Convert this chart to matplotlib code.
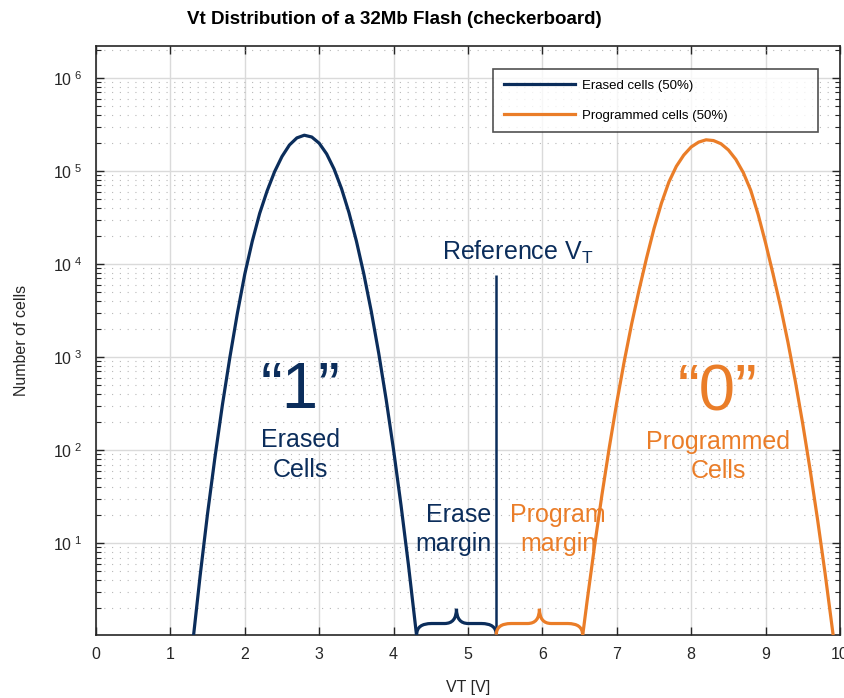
import numpy as np
import matplotlib
matplotlib.use('Agg')
import matplotlib.pyplot as plt
from matplotlib.path import Path
from matplotlib.patches import PathPatch
from matplotlib.ticker import FuncFormatter, LogLocator, NullFormatter
import matplotlib.transforms as mtransforms

plt.rcParams['font.family'] = ['Liberation Sans', 'DejaVu Sans']
plt.rcParams['mathtext.fontset'] = 'custom'
plt.rcParams['mathtext.rm'] = 'Liberation Sans'
plt.rcParams['mathtext.it'] = 'Liberation Sans:italic'
plt.rcParams['mathtext.bf'] = 'Liberation Sans:bold'

# --- data ---
vt_erased = [1.31, 1.4, 1.5, 1.6, 1.7, 1.8, 1.9, 2.0, 2.1, 2.2, 2.3, 2.4, 2.5, 2.6,
             2.7, 2.8, 2.9, 3.0, 3.1, 3.2, 3.3, 3.4, 3.5, 3.6, 3.7, 3.8, 3.9, 4.0,
             4.1, 4.2, 4.31]
cells_erased = [1.0, 4.5, 21, 85, 310, 1000, 2950, 7800, 17500, 35000, 61000,
                98000, 143000, 190000, 226500, 242000, 231500, 198500, 152400,
                104800, 64590, 35650, 17630, 7806, 3097, 1100, 350, 100, 25.5,
                5.8, 1.0]

vt_programmed = [6.54, 6.6, 6.7, 6.8, 6.9, 7.0, 7.1, 7.2, 7.3, 7.4, 7.5, 7.6, 7.7,
                 7.8, 7.9, 8.0, 8.1, 8.2, 8.3, 8.4, 8.5, 8.6, 8.7, 8.8, 8.9, 9.0,
                 9.1, 9.2, 9.3, 9.4, 9.5, 9.6, 9.7, 9.8, 9.91]
cells_programmed = [1.0, 2.36, 9.22, 33.0, 108, 326, 901, 2280, 5297, 11600, 24000,
                    45000, 76000, 112000, 148000, 181000, 204000, 216000, 212000,
                    196000, 168000, 133000, 96000, 62000, 34000, 16800, 7815, 3513,
                    1449, 548, 190, 60.4, 17.6, 4.72, 1.0]

y_ticks = [1e1, 1e2, 1e3, 1e4, 1e5, 1e6]
reference_vt = 5.38
reference_top = 7550
erase_margin = (4.31, 5.38)
program_margin = (5.38, 6.54)

navy = '#0b2d5b'
orange = '#ea7d28'
axis_gray = '#262626'

fig = plt.figure(figsize=(8.44, 6.98), dpi=100)
ax = fig.add_axes([96 / 844, 1 - 634.7 / 698, 744 / 844, 588.7 / 698])

ax.plot(vt_erased, cells_erased, color=navy, lw=2.3, label='Erased cells (50%)', zorder=3)
ax.plot(vt_programmed, cells_programmed, color=orange, lw=2.3, label='Programmed cells (50%)', zorder=3)

ax.set_yscale('log')
ax.set_xlim(0, 10)
ax.set_ylim(1.04, 2.2e6)
ax.set_xticks(range(0, 11))
ax.set_yticks(y_ticks)
ax.yaxis.set_minor_locator(LogLocator(base=10, subs=np.arange(2, 10), numticks=20))
ax.yaxis.set_minor_formatter(NullFormatter())
ax.yaxis.set_major_formatter(FuncFormatter(
    lambda v, p: r'$\mathregular{10\;^{%d}}$' % int(round(np.log10(v)))))

ax.grid(True, which='major', color='#dadada', lw=1.0, ls='-', zorder=0)
ax.grid(True, which='minor', axis='y', color='#b8b8b8', lw=0.8,
        ls=(0, (1, 6)), zorder=0)

ax.tick_params(which='both', direction='in', top=True, right=True, colors=axis_gray,
               labelcolor=axis_gray, labelsize=11.5)
ax.tick_params(which='major', length=6, width=1.0)
ax.tick_params(which='minor', length=3.5, width=0.8)
ax.tick_params(axis='x', pad=9)
ax.tick_params(axis='y', pad=10)
for s in ax.spines.values():
    s.set_color(axis_gray)
    s.set_linewidth(1.2)

ax.set_xlabel('VT [V]', fontsize=11.5, color=axis_gray, labelpad=13)
ax.set_ylabel('Number of cells', fontsize=11.5, color=axis_gray, labelpad=17)
fig.text(394 / 844, 1 - 19 / 698, 'Vt Distribution of a 32Mb Flash (checkerboard)',
         ha='center', va='center', fontsize=13.5, fontweight='bold', color='black')

leg = ax.legend(loc='upper left', bbox_to_anchor=(0.534, 0.852, 0.436, 0.109),
                mode='expand', fontsize=9.5, frameon=True, fancybox=False,
                handlelength=5.4, handletextpad=0.5, labelspacing=1.35,
                borderpad=0.8, borderaxespad=0)
leg.get_frame().set_edgecolor(axis_gray)
leg.get_frame().set_linewidth(1.2)

# reference line
ax.vlines(reference_vt, 1.04, reference_top, color=navy, lw=1.8, zorder=3)
ax.text(4.645, 11140, r'Reference V$_{\mathrm{T}}$', color=navy, fontsize=18,
        ha='left', va='baseline')

# big labels
ax.text(2.75, 281, '\u201c1\u201d', color=navy, fontsize=47, ha='center', va='baseline')
ax.text(2.75, 107, 'Erased', color=navy, fontsize=18, ha='center', va='baseline')
ax.text(2.75, 51, 'Cells', color=navy, fontsize=18, ha='center', va='baseline')
ax.text(8.36, 267, '\u201c0\u201d', color=orange, fontsize=47, ha='center', va='baseline')
ax.text(8.36, 103, 'Programmed', color=orange, fontsize=18, ha='center', va='baseline')
ax.text(8.36, 50.5, 'Cells', color=orange, fontsize=18, ha='center', va='baseline')

ax.text(5.318, 16.8, 'Erase', color=navy, fontsize=18, ha='right', va='baseline')
ax.text(5.318, 8.34, 'margin', color=navy, fontsize=18, ha='right', va='baseline')
ax.text(6.21, 16.8, 'Program', color=orange, fontsize=18, ha='center', va='baseline')
ax.text(6.21, 8.34, 'margin', color=orange, fontsize=18, ha='center', va='baseline')

# curly braces (x in data, y in axes fraction)
trans = mtransforms.blended_transform_factory(ax.transData, ax.transAxes)


def brace(x0, x1, color):
    xm = (x0 + x1) / 2
    h1, h2 = 0.019, 0.044
    r, r2 = 0.2, 0.16
    verts = [(x0, 0), (x0, h1), (x0 + r, h1),
             (xm - r2, h1),
             (xm, h1), (xm, h2),
             (xm, h1), (xm + r2, h1),
             (x1 - r, h1),
             (x1, h1), (x1, 0)]
    codes = [Path.MOVETO, Path.CURVE3, Path.CURVE3,
             Path.LINETO,
             Path.CURVE3, Path.CURVE3,
             Path.CURVE3, Path.CURVE3,
             Path.LINETO,
             Path.CURVE3, Path.CURVE3]
    ax.add_patch(PathPatch(Path(verts, codes), transform=trans, fill=False,
                           edgecolor=color, lw=2.3, zorder=4, clip_on=False))


brace(*erase_margin, navy)
brace(*program_margin, orange)

fig.savefig('out.png', dpi=100)
